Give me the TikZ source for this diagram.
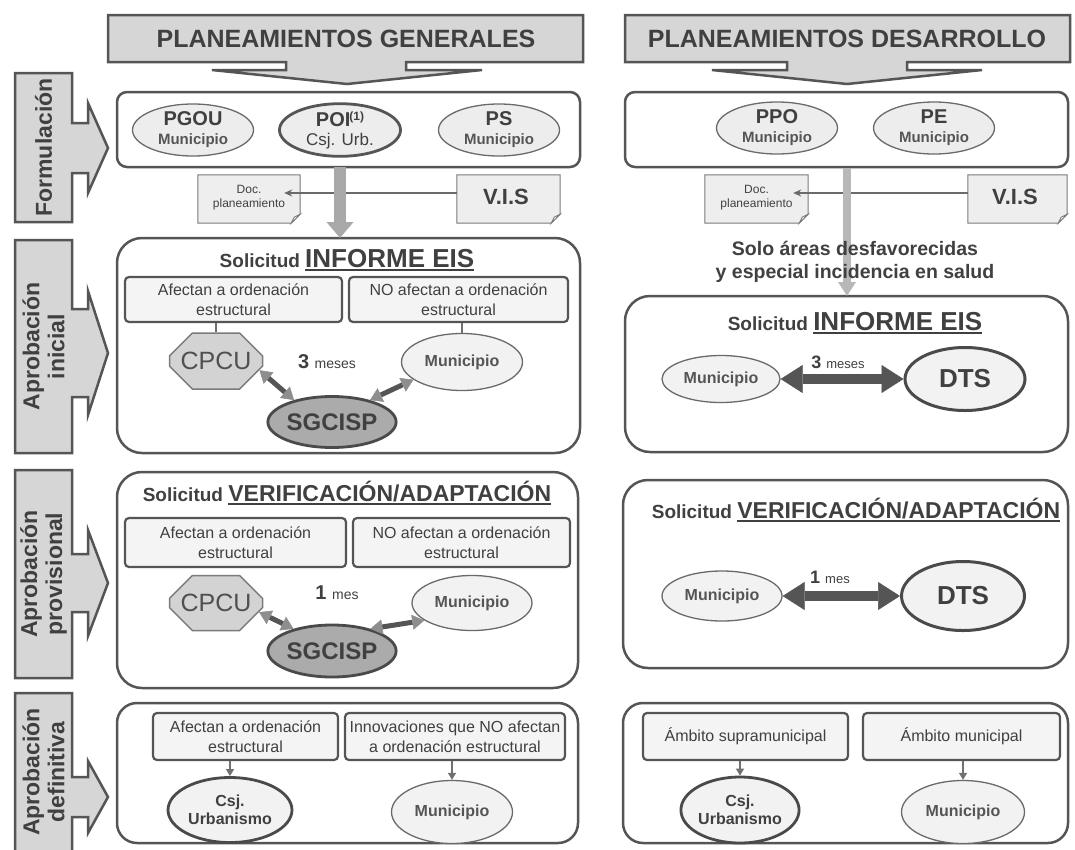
\documentclass[tikz,border=0pt]{standalone}
\usepackage{fontspec}
\setmainfont{Liberation Sans}
\usetikzlibrary{arrows.meta,shapes.geometric,shapes.misc}
\definecolor{txt}{HTML}{404040}
\definecolor{bord}{HTML}{555555}
\definecolor{hfill}{HTML}{D6D6D6}
\definecolor{efill}{HTML}{EDEDED}
\definecolor{efilltwo}{HTML}{F2F2F2}
\definecolor{ebord}{HTML}{6A6A6A}
\definecolor{sgfill}{HTML}{ABABAB}
\definecolor{sgline}{HTML}{4A4A4A}
\definecolor{cpfill}{HTML}{D3D3D3}
\definecolor{cpline}{HTML}{7A7A7A}
\definecolor{cptxt}{HTML}{505050}
\definecolor{subfill}{HTML}{F4F4F4}
\definecolor{arrgray}{HTML}{A9A9A9}
\definecolor{arrgrayR}{HTML}{B8B8B8}
\definecolor{dline}{HTML}{7A7A7A}
\definecolor{dfill}{HTML}{EEEEEE}
\definecolor{tline}{HTML}{6A6A6A}
\definecolor{dark}{HTML}{555555}
\definecolor{headgray}{HTML}{8E8E8E}
\definecolor{cline}{HTML}{707070}
\definecolor{muntxt}{HTML}{555555}
\newcommand{\fsz}[2]{\fontsize{#1pt}{#2pt}\selectfont}
\newcommand{\myul}[1]{\setbox0\hbox{#1}\rlap{\rule[-3.5pt]{\wd0}{1.8pt}}\box0}
\newcommand{\docoutline}[1]{%
  \filldraw[docline] (#1.north west) -- (#1.north east) -- ([yshift=9pt]#1.south east)
    -- ([xshift=-9pt]#1.south east) -- (#1.south west) -- cycle;
  \filldraw[docfold] ([yshift=9pt]#1.south east) -- ([xshift=-6pt,yshift=6pt]#1.south east)
    -- ([xshift=-9pt]#1.south east) -- cycle;}
\tikzset{
  hdrshape/.style={draw=bord, line width=2.5pt, fill=hfill},
  hdrtext/.style={font=\bfseries\fsz{25}{30}, text=txt, inner sep=0pt},
  lblshape/.style={draw=bord, line width=2.5pt, fill=hfill},
  lbltext/.style={font=\bfseries\fsz{23}{25}, text=txt, align=center, rotate=90, inner sep=0pt},
  panel/.style={draw=bord, line width=2.5pt, fill=white, inner sep=0pt, outer sep=0pt},
  fell/.style={ellipse, draw=ebord, line width=1.3pt, fill=efill, align=center, inner sep=0pt,
    text=txt, minimum width=121pt, minimum height=52pt, font=\fsz{16}{19}},
  docbox/.style={rectangle, inner sep=0pt, minimum height=48pt},
  docline/.style={draw=dline, line width=1pt, fill=dfill},
  docfold/.style={draw=dline, line width=0.8pt, fill=white},
  doctext/.style={font=\fsz{12}{14}, align=center, text=txt, inner sep=0pt},
  vistext/.style={font=\bfseries\fsz{22}{24}, text=txt, inner sep=0pt},
  thinarr/.style={draw=tline, line width=1.3pt, -{Stealth[length=8pt,width=7pt]}},
  grayarr/.style={draw=arrgray, line width=12pt, -{Triangle[width=26pt,length=16pt]}},
  grayarrR/.style={draw=arrgrayR, line width=8pt, -{Triangle[width=17pt,length=14pt]}},
  title/.style={text=txt, inner sep=0pt, font=\bfseries},
  subbox/.style={rectangle, rounded corners=4pt, draw=bord, line width=2.2pt, fill=subfill,
    align=center, font=\fsz{16}{20}, text=txt, inner sep=0pt},
  cpcu/.style={chamfered rectangle, chamfered rectangle xsep=14pt, chamfered rectangle ysep=14pt,
    draw=cpline, line width=1.5pt, fill=cpfill, inner sep=0pt, minimum width=93pt,
    minimum height=56pt, font=\fsz{25}{27}, text=cptxt},
  munell/.style={ellipse, draw=ebord, line width=1.3pt, fill=efilltwo, inner sep=0pt,
    font=\bfseries\fsz{16}{18}, text=muntxt, align=center},
  sgell/.style={ellipse, draw=sgline, line width=2.8pt, fill=sgfill, inner sep=0pt,
    minimum width=122pt, minimum height=51pt, font=\bfseries\fsz{24}{26}, text=txt},
  dtsell/.style={ellipse, draw=sgline, line width=3pt, fill=efilltwo, inner sep=0pt,
    font=\bfseries\fsz{26}{28}, text=txt},
  csjell/.style={ellipse, draw=sgline, line width=2.8pt, fill=efilltwo, inner sep=0pt,
    font=\bfseries\fsz{16}{18}, text=txt, align=center},
  dbl/.style={draw=dark, line width=5pt,
    {Triangle[width=15pt,length=12pt,color=headgray,line width=0.5pt]}-{Triangle[width=15pt,length=12pt,color=headgray,line width=0.5pt]}},
  bigdbl/.style={draw=dark, line width=10pt,
    {Triangle[width=28pt,length=22pt,line width=0.5pt]}-{Triangle[width=28pt,length=22pt,line width=0.5pt]}},
  conn/.style={draw=cline, line width=1.2pt},
  smallarr/.style={draw=cline, line width=1.2pt, -{Triangle[width=8pt,length=7pt]}},
  lbl/.style={text=txt, inner sep=0pt},
}
\newcommand{\ptop}[1]{{\bfseries\fsz{20}{21}#1}}
\newcommand{\pmun}{{\bfseries\color{muntxt}\fsz{15}{16}Municipio}}
\begin{document}
\begin{tikzpicture}[x=1pt,y=-1pt]
\useasboundingbox (0,0) rectangle (1075,849);
\clip (0,0) rectangle (1075,849);
\fill[white] (0,0) rectangle (1075,849);

% ---------- headers ----------
\draw[hdrshape] (108,15) -- (583,15) -- (583,62) -- (406,62) -- (406,70) -- (482,70) -- (347,84)
  -- (212,70) -- (286,70) -- (286,62) -- (108,62) -- cycle;
\node[hdrtext] (hG) at (346,39) {PLANEAMIENTOS GENERALES};
\draw[hdrshape] (625,15) -- (1070,15) -- (1070,62) -- (907,62) -- (907,70) -- (982,70) -- (847,84)
  -- (712,70) -- (787,70) -- (787,62) -- (625,62) -- cycle;
\node[hdrtext] (hD) at (847,39) {PLANEAMIENTOS DESARROLLO};

% ---------- stage labels ----------
\draw[lblshape] (15,73) -- (72,73) -- (72,123) -- (88,123) -- (88,103) -- (108,148) -- (88,193)
  -- (88,173) -- (72,173) -- (72,222) -- (15,222) -- cycle;
\node[lbltext] (lF) at (43.5,147.5) {Formulación};
\draw[lblshape] (15,240) -- (72,240) -- (72,309) -- (88,309) -- (88,291) -- (108,353) -- (88,415)
  -- (88,397) -- (72,397) -- (72,453) -- (15,453) -- cycle;
\node[lbltext] (lI) at (43.5,346.5) {Aprobación\\inicial};
\draw[lblshape] (15,470) -- (72,470) -- (72,554) -- (88,554) -- (88,530) -- (108,583) -- (88,636)
  -- (88,612) -- (72,612) -- (72,678) -- (15,678) -- cycle;
\node[lbltext] (lP) at (43.5,574) {Aprobación\\provisional};
\draw[lblshape] (15,693) -- (72,693) -- (72,777) -- (88,777) -- (88,761) -- (108,797) -- (88,833)
  -- (88,817) -- (72,817) -- (72,855) -- (15,855) -- cycle;
\node[lbltext] (lD) at (43.5,772) {Aprobación\\definitiva};

% ---------- panels ----------
\node[panel, rounded corners=10pt, minimum width=463pt, minimum height=75pt] (LF) at (348.5,129.5) {};
\node[panel, rounded corners=25pt, minimum width=463pt, minimum height=215pt] (LI) at (348.5,345.5) {};
\node[panel, rounded corners=25pt, minimum width=461pt, minimum height=216pt] (LP) at (347.5,580) {};
\node[panel, rounded corners=20pt, minimum width=461pt, minimum height=140pt] (LD) at (347.5,773) {};
\node[panel, rounded corners=10pt, minimum width=443pt, minimum height=75pt] (RF) at (846.5,129.5) {};
\node[panel, rounded corners=25pt, minimum width=443pt, minimum height=156pt] (RI) at (846.5,374) {};
\node[panel, rounded corners=25pt, minimum width=445pt, minimum height=188pt] (RP) at (845.5,574) {};
\node[panel, rounded corners=20pt, minimum width=445pt, minimum height=140pt] (RD) at (845.5,773) {};

% ---------- formulacion ----------
\node[fell] (PGOU) at (193,130) {\ptop{PGOU}\\\pmun};
\node[fell, line width=2.8pt, draw=bord] (POI) at (340,130)
  {\ptop{POI\kern-1pt\raisebox{6pt}{\fsz{12}{12}(1)}}\\{\fsz{17}{18}Csj. Urb.}};
\node[fell] (PS) at (499,130) {\ptop{PS}\\\pmun};
\node[fell] (PPO) at (777,128) {\ptop{PPO}\\\pmun};
\node[fell] (PE) at (934,128) {\ptop{PE}\\\pmun};

% documents
\node[docbox, minimum width=102pt] (DocL) at (249,199) {};
\docoutline{DocL}
\node[doctext] (DocLt) at (249,198) {Doc.\\planeamiento};
\node[docbox, minimum width=103pt] (VISL) at (508.5,199) {};
\docoutline{VISL}
\node[vistext] (VISLt) at (506,197) {V.I.S};
\node[docbox, minimum width=103pt] (DocR) at (756.5,199) {};
\docoutline{DocR}
\node[doctext] (DocRt) at (756.5,198) {Doc.\\planeamiento};
\node[docbox, minimum width=99pt] (VISR) at (1017.5,199) {};
\docoutline{VISR}
\node[vistext] (VISRt) at (1015,197) {V.I.S};

\draw[thinarr] ([yshift=6pt]VISL.west) -- ([xshift=-16pt,yshift=6pt]DocL.east);
\draw[thinarr] ([yshift=6pt]VISR.west) -- ([xshift=-15pt,yshift=6pt]DocR.east);

% gray flow arrows
\draw[grayarr] (POI.south |- LF.south) -- (POI.south |- LI.north);
\coordinate (rx) at (847,0);
\draw[grayarrR] ([yshift=-1pt]rx |- RF.south) -- (rx |- RI.north);
\node[title, align=center, font=\bfseries\fsz{19.5}{23}] (solo) at (855,262)
  {Solo áreas desfavorecidas\\y especial incidencia en salud};

% ---------- aprobacion inicial (left) ----------
\node[title] (tLI) at (347,260) {\fsz{19}{22}Solicitud \fsz{26}{28}\myul{INFORME EIS}};
\node[subbox, minimum width=217pt, minimum height=45pt] (LIa) at (233.5,299.5) {Afectan a ordenación\\estructural};
\node[subbox, minimum width=219pt, minimum height=45pt] (LIb) at (458.5,299.5) {NO afectan a ordenación\\estructural};
\node[cpcu] (CPi) at (216,361) {CPCU};
\node[munell, minimum width=121pt, minimum height=57pt] (MunI) at (462,362) {Municipio};
\node[sgell] (SGi) at (332,422) {SGCISP};
\node[lbl] (tmI) at (327,362) {\bfseries\fsz{20}{22}3 \mdseries\fsz{14}{16}meses};
\draw[conn] (CPi.north) -- (CPi.north |- LIa.south);
\draw[conn] (MunI.north) -- (MunI.north |- LIb.south);
\draw[dbl] (CPi.-12) -- (SGi.150);
\draw[dbl] (SGi.30) -- (MunI.200);

% ---------- aprobacion inicial (right) ----------
\node[title] (tRI) at (855,323) {\fsz{19}{22}Solicitud \fsz{26}{28}\myul{INFORME EIS}};
\node[munell, minimum width=118pt, minimum height=47pt] (MunRI) at (721,379) {Municipio};
\node[dtsell, minimum width=120pt, minimum height=63pt] (DTSRI) at (965,379) {DTS};
\draw[bigdbl] (MunRI) -- (DTSRI);
\node[lbl] (tmRI) at (838,362) {\bfseries\fsz{18}{20}3 \mdseries\fsz{13}{15}meses};

% ---------- aprobacion provisional (left) ----------
\node[title] (tLP) at (347,493) {\fsz{19}{22}Solicitud \fsz{23}{26}\myul{VERIFICACIÓN/ADAPTACIÓN}};
\node[subbox, minimum width=221pt, minimum height=49pt] (LPa) at (235.5,542.5) {Afectan a ordenación\\estructural};
\node[subbox, minimum width=217pt, minimum height=49pt] (LPb) at (461.5,542.5) {NO afectan a ordenación\\estructural};
\node[cpcu, minimum height=55pt] (CPp) at (216,603) {CPCU};
\node[munell, minimum width=120pt, minimum height=55pt] (MunP) at (472,603) {Municipio};
\node[sgell, minimum height=52pt] (SGp) at (332,651) {SGCISP};
\node[lbl] (tmP) at (337,593) {\bfseries\fsz{20}{22}1 \mdseries\fsz{14}{16}mes};
\draw[dbl] (CPp.-12) -- (SGp.150);
\draw[dbl] (SGp.30) -- (MunP.200);

% ---------- aprobacion provisional (right) ----------
\node[title] (tRP) at (856,510) {\fsz{19}{22}Solicitud \fsz{23}{26}\myul{VERIFICACIÓN/ADAPTACIÓN}};
\node[munell, minimum width=120pt, minimum height=50pt] (MunRP) at (722,596) {Municipio};
\node[dtsell, minimum width=123pt, minimum height=69pt] (DTSRP) at (963,596) {DTS};
\draw[bigdbl] (MunRP) -- (DTSRP);
\node[lbl] (tmRP) at (830,577) {\bfseries\fsz{18}{20}1 \mdseries\fsz{13}{15}mes};

% ---------- aprobacion definitiva (left) ----------
\node[subbox, minimum width=185pt, minimum height=47pt] (LDa) at (245.5,736.5) {Afectan a ordenación\\estructural};
\node[subbox, minimum width=220pt, minimum height=47pt] (LDb) at (455,736.5) {Innovaciones que NO afectan\\a ordenación estructural};
\node[csjell, minimum width=124pt, minimum height=65pt] (CsjL) at (230,810) {Csj.\\Urbanismo};
\node[munell, minimum width=121pt, minimum height=63pt] (MunDL) at (452,812) {Municipio};
\draw[smallarr] (CsjL.north |- LDa.south) -- (CsjL.north);
\draw[smallarr] (MunDL.north |- LDb.south) -- (MunDL.north);

% ---------- aprobacion definitiva (right) ----------
\node[subbox, minimum width=205pt, minimum height=47pt] (RDa) at (745.5,736.5) {Ámbito supramunicipal};
\node[subbox, minimum width=197pt, minimum height=47pt] (RDb) at (961.5,736.5) {Ámbito municipal};
\node[csjell, minimum width=115pt, minimum height=66pt] (CsjR) at (740,810) {Csj.\\Urbanismo};
\node[munell, minimum width=123pt, minimum height=63pt] (MunDR) at (963,812) {Municipio};
\draw[smallarr] (CsjR.north |- RDa.south) -- (CsjR.north);
\draw[smallarr] (MunDR.north |- RDb.south) -- (MunDR.north);
\end{tikzpicture}
\end{document}
